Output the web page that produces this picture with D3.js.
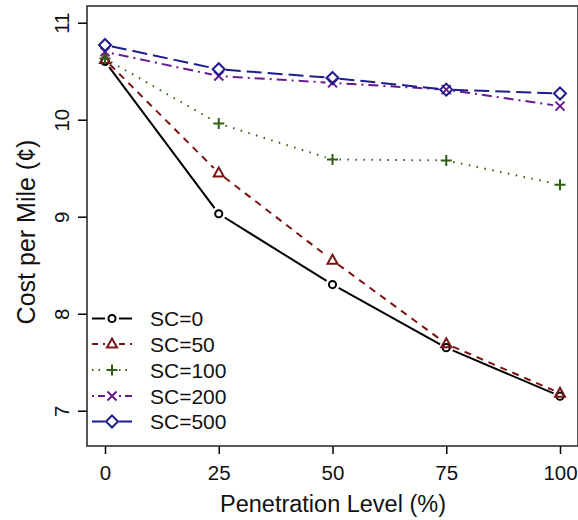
<!DOCTYPE html>
<html>
<head>
<meta charset="utf-8" />
<title>Cost per Mile</title>
<style>
  body { margin: 0; background: #fff; }
  svg { font-family: "Liberation Sans", Arial, Helvetica, sans-serif; }
</style>
</head>
<body>
<svg id="chart" width="578" height="520"></svg>
<script src="https://cdn.jsdelivr.net/npm/d3@7/dist/d3.min.js"></script>
<script>
// data
const penetration = [0, 25, 50, 75, 100];
const seriesNames = ["SC=0", "SC=50", "SC=100", "SC=200", "SC=500"];
const sc0   = [10.60, 9.03, 8.30, 7.65, 7.15];
const sc50  = [10.62, 9.45, 8.55, 7.69, 7.18];
const sc100 = [10.63, 9.96, 9.59, 9.58, 9.33];
const sc200 = [10.70, 10.45, 10.38, 10.31, 10.14];
const sc500 = [10.77, 10.52, 10.43, 10.31, 10.27];
const xTicks = [0, 25, 50, 75, 100];
const yTicks = [7, 8, 9, 10, 11];

const seriesValues = [sc0, sc50, sc100, sc200, sc500];
const colors = ["#000000", "#7a1414", "#2f5f14", "#6a1a8c", "#1c1c8c"];
const dashes = [null, "7,6", "1.5,6.5", "2,5,10,5", "15,6"];
const legendDashes = [null, "6,5", "1.5,5", "2,4,8,4", null];
const shapes = ["circle", "triangle", "plus", "cross", "diamond"];

const svg = d3.select("#chart");
const plotLeft = 87, plotRight = 578, plotTop = 6, plotBottom = 446;

const x = d3.scaleLinear().domain([0, 100]).range([105, 560]);
const y = d3.scaleLinear().domain([7, 11]).range([410.7, 22.7]);

// axes
const xAxis = svg.append("g")
  .attr("transform", "translate(0," + plotBottom + ")")
  .call(d3.axisBottom(x).tickValues(xTicks).tickSize(8).tickPadding(11));
xAxis.select(".domain").remove();
xAxis.selectAll("line").attr("stroke-width", 1.5);
xAxis.selectAll("text").style("font-size", "20.5px").attr("fill", "#111");

const yAxis = svg.append("g")
  .attr("transform", "translate(" + plotLeft + ",0)")
  .call(d3.axisLeft(y).tickValues(yTicks).tickSize(9).tickFormat(d3.format("d")));
yAxis.select(".domain").remove();
yAxis.selectAll("line").attr("stroke-width", 1.5);
yAxis.selectAll("text")
  .style("font-size", "20.5px")
  .attr("fill", "#111")
  .attr("transform", "rotate(-90)")
  .attr("x", 0).attr("y", -18).attr("dy", 0)
  .style("text-anchor", "middle");

// box
svg.append("rect")
  .attr("x", plotLeft).attr("y", plotTop)
  .attr("width", plotRight - plotLeft).attr("height", plotBottom - plotTop)
  .attr("fill", "none").attr("stroke", "#222").attr("stroke-width", 1.5);

// titles
svg.append("text")
  .attr("x", 333).attr("y", 512)
  .attr("text-anchor", "middle")
  .style("font-size", "23.5px").attr("fill", "#111")
  .text("Penetration Level (%)");

svg.append("text")
  .attr("transform", "translate(35,232) rotate(-90)")
  .attr("text-anchor", "middle")
  .style("font-size", "25px").attr("fill", "#111")
  .text("Cost per Mile (\u00a2)");

function marker(g, shape, cx, cy, color) {
  const s = g.append("path")
    .attr("fill", "none").attr("stroke", color).attr("stroke-width", 2)
    .attr("transform", "translate(" + cx + "," + cy + ")");
  if (shape === "circle") s.attr("d", d3.symbol(d3.symbolCircle, 40)());
  if (shape === "triangle") s.attr("d", "M0,-5.5L5,3.5L-5,3.5Z");
  if (shape === "plus") s.attr("d", "M-5.5,0H5.5M0,-5.5V5.5");
  if (shape === "cross") s.attr("d", "M-4.5,-4.5L4.5,4.5M-4.5,4.5L4.5,-4.5");
  if (shape === "diamond") s.attr("d", "M0,-6L6,0L0,6L-6,0Z");
}

// lines with gaps round the points, then points
const gap = 7;
seriesValues.forEach((vals, i) => {
  const g = svg.append("g");
  for (let k = 0; k < vals.length - 1; k++) {
    const x1 = x(penetration[k]), y1 = y(vals[k]);
    const x2 = x(penetration[k + 1]), y2 = y(vals[k + 1]);
    const len = Math.hypot(x2 - x1, y2 - y1);
    const ux = (x2 - x1) / len, uy = (y2 - y1) / len;
    g.append("line")
      .attr("x1", x1 + ux * gap).attr("y1", y1 + uy * gap)
      .attr("x2", x2 - ux * gap).attr("y2", y2 - uy * gap)
      .attr("stroke", colors[i]).attr("stroke-width", 2)
      .attr("stroke-dasharray", dashes[i]);
  }
  vals.forEach((v, k) => marker(g, shapes[i], x(penetration[k]), y(v), colors[i]));
});

// legend
const legendY = [318.5, 344, 370, 396, 421.5];
seriesNames.forEach((name, i) => {
  const g = svg.append("g");
  const ly = legendY[i];
  [[92, 105], [119, 132]].forEach(seg => {
    g.append("line")
      .attr("x1", seg[0]).attr("x2", seg[1]).attr("y1", ly).attr("y2", ly)
      .attr("stroke", colors[i]).attr("stroke-width", 2)
      .attr("stroke-dasharray", legendDashes[i]);
  });
  marker(g, shapes[i], 112, ly, colors[i]);
  g.append("text")
    .attr("x", 150).attr("y", ly + 7.5)
    .style("font-size", "21px").attr("fill", "#111")
    .text(name);
});
</script>
</body>
</html>
